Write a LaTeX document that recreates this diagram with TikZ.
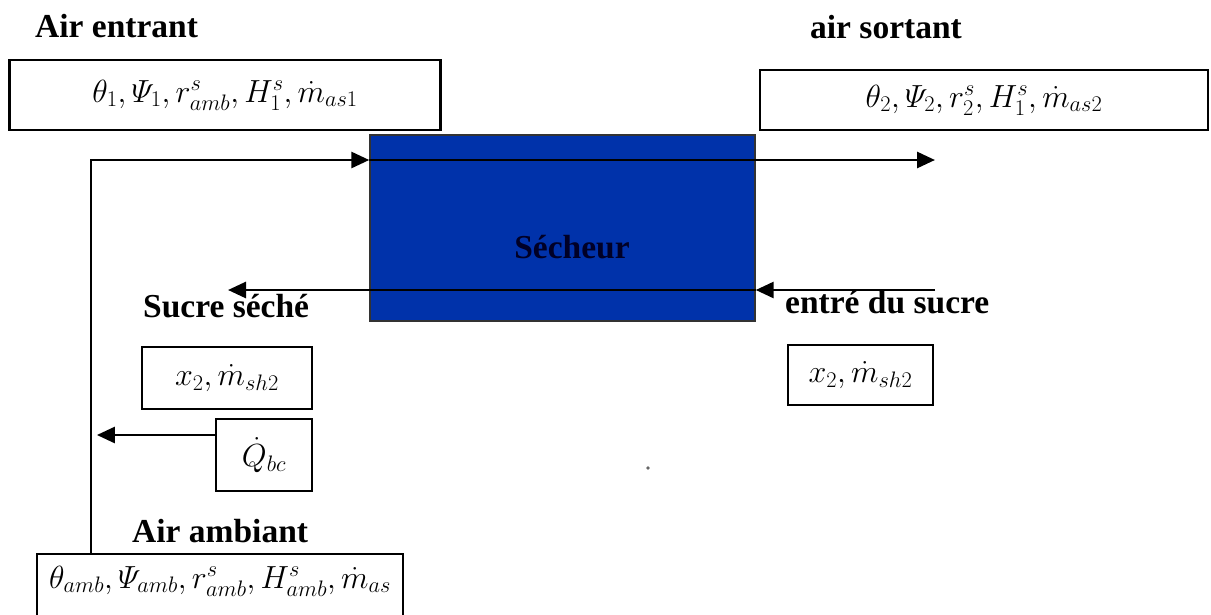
\RequirePackage{fix-cm}
\documentclass[tikz,border=0pt]{standalone}
\usepackage{amsmath}
\usepackage{fontspec}
\setmainfont{Liberation Serif}
\usetikzlibrary{arrows.meta}
\definecolor{dryerblue}{RGB}{0,50,170}
\begin{document}
\begin{tikzpicture}[x=1pt,y=-1pt,
  lbl/.style={font=\fontsize{33.5}{38}\selectfont\bfseries, inner sep=0pt, anchor=base west},
  varbox/.style={draw, line width=2.2pt, inner sep=0pt, fill=white, font=\fontsize{32}{38}\selectfont},
  flow/.style={line width=2.8pt, -{Triangle[length=18pt,width=16pt]}}
]
\useasboundingbox (0,0) rectangle (1211,614);
\clip (0,0) rectangle (1211,614);

% dryer
\node[draw=black!80, fill=dryerblue, line width=1.4pt, minimum width=385pt,
      minimum height=186pt, inner sep=0pt] (dryer) at (562.5,228) {};
\node[lbl, anchor=base, text=black!85!blue] (dryername) at (572,258) {Sécheur};

% stream levels
\coordinate (airY) at (0,160);
\coordinate (sugY) at (0,290);
\coordinate (airExit) at (935,160);
\coordinate (sugarEntry) at (935,290);
\coordinate (sugarExit) at (228,290);

% text labels
\node[lbl] (airin) at (35,37) {Air entrant};
\node[lbl, anchor=base east] (airout) at (962,38) {air sortant};
\node[lbl] (sugout) at (143,317) {Sucre séché};
\node[lbl] (sugin) at (785,313) {entré du sucre};
\node[lbl] (ambient) at (132,542) {Air ambiant};

% variable boxes
\node[varbox, minimum width=431pt, minimum height=70pt] (boxin) at (225,95)
  {$\theta_1,\varPsi_1,r^s_{amb},H^s_1,\dot m_{as1}$};
\node[varbox, minimum width=448pt, minimum height=60pt] (boxout) at (984,100)
  {$\theta_2,\varPsi_2,r^s_2,H^s_1,\dot m_{as2}$};
\node[varbox, minimum width=170pt, minimum height=62pt] (sugbl) at (227,378)
  {$x_2,\dot m_{sh2}$};
\node[varbox, minimum width=145pt, minimum height=60pt] (sugbr) at (860.5,375)
  {$x_2,\dot m_{sh2}$};
\node[varbox, minimum width=96pt, minimum height=72pt] (qbc) at (264,455)
  {$\dot Q_{bc}$};
\node[varbox, anchor=north, minimum width=366pt, text height=34pt, text depth=60pt]
  (boxamb) at (220,553)
  {$\theta_{amb},\varPsi_{amb},r^s_{amb},H^s_{amb},\dot m_{as}$};

% air stream
\draw[flow] ([xshift=-129pt]boxamb.north) |- (dryer.west |- airY);
\draw[flow] (dryer.west |- airY) -- (airExit);
% sugar stream
\draw[flow] (sugarEntry) -- (dryer.east |- sugY);
\draw[flow] (dryer.east |- sugY) -- (sugarExit);
% heat input
\draw[flow] ([yshift=20pt]qbc.west) -- ([yshift=20pt,xshift=-118pt]qbc.west);

% small speck
\node[circle, fill=black!60, inner sep=1.3pt] (speck) at (648,468) {};
\end{tikzpicture}
\end{document}
